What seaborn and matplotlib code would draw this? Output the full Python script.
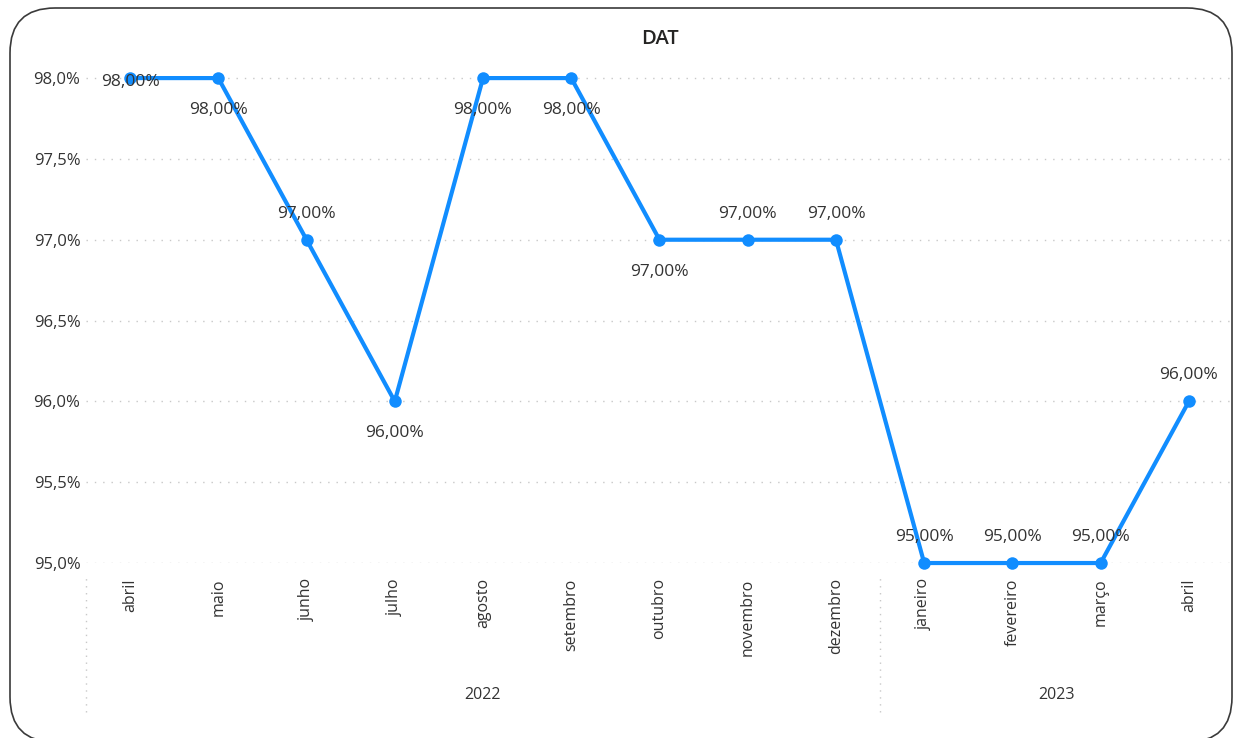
import matplotlib
matplotlib.use('Agg')
import matplotlib.pyplot as plt
import seaborn as sns
import pandas as pd
from matplotlib.ticker import FuncFormatter, MultipleLocator
from matplotlib.patches import FancyBboxPatch
from matplotlib.transforms import IdentityTransform

# data
months = ['abril', 'maio', 'junho', 'julho', 'agosto', 'setembro', 'outubro',
          'novembro', 'dezembro', 'janeiro', 'fevereiro', 'março', 'abril']
years = ['2022'] * 9 + ['2023'] * 4
dat = [98.0, 98.0, 97.0, 96.0, 98.0, 98.0, 97.0, 97.0, 97.0, 95.0, 95.0, 95.0, 96.0]
# where each data label sits relative to its point
label_side = ['center', 'below', 'above', 'below', 'below', 'below', 'below',
              'above', 'above', 'above', 'above', 'above', 'above']

df = pd.DataFrame({'pos': range(len(months)), 'month': months, 'year': years, 'dat': dat})

sns.set_theme(style='white')
plt.rcParams['font.family'] = ['Open Sans', 'DejaVu Sans']

fig = plt.figure(figsize=(12.33, 7.38), dpi=100)
ax = fig.add_axes([0.0697, 0.2371, 0.9303, 0.679])

blue = '#118DFF'
text_col = '#333333'
sns.lineplot(data=df, x='pos', y='dat', ax=ax, color=blue, linewidth=3,
             marker='o', markersize=9, markeredgewidth=0, markeredgecolor=blue)
for ln in ax.lines:
    ln.set_clip_on(False)

ax.set_xlim(-0.5, 12.5)
ax.set_ylim(95.0, 98.1)
ax.yaxis.set_major_locator(MultipleLocator(0.5))
ax.yaxis.set_major_formatter(FuncFormatter(lambda v, p: f'{v:.1f}%'.replace('.', ',')))
ax.grid(axis='y', linestyle=(0, (1, 5)), color='#c8c8c8', linewidth=1)
ax.grid(axis='x', visible=False)
for s in ax.spines.values():
    s.set_visible(False)

ax.set_xticks(df['pos'])
ax.set_xticklabels(months, rotation=90, va='top', ha='center')
ax.tick_params(axis='x', length=0, pad=11, labelsize=11.5, labelcolor=text_col)
ax.tick_params(axis='y', length=0, pad=4, labelsize=12, labelcolor=text_col)
ax.set_xlabel('')
ax.set_ylabel('')

# data labels
offsets = {'center': (0, -4), 'below': (0, -32), 'above': (0, 26)}
for x, y, side in zip(df['pos'], df['dat'], label_side):
    dx, dy = offsets[side]
    ax.annotate(f'{y:.2f}%'.replace('.', ','), (x, y), xytext=(dx * 0.72, dy * 0.72),
                textcoords='offset points', ha='center', va='center',
                fontsize=12.5, color=text_col, zorder=5, annotation_clip=False)

# year level of the axis
xt = ax.get_xaxis_transform()
for yr in df['year'].unique():
    sub = df[df['year'] == yr]
    ax.text(sub['pos'].mean(), -0.263, yr, transform=xt, ha='center', va='center',
            fontsize=11.5, color=text_col)
bounds = [-0.5] + [df[df['year'] == yr]['pos'].min() - 0.5 for yr in df['year'].unique()[1:]]
ax.vlines(bounds, -0.297, -0.024, transform=xt, clip_on=False,
          linestyle=(0, (1, 4)), color='#c8c8c8', linewidth=1)

ax.set_title('DAT', fontsize=14.5, color='#252423', pad=13, fontweight='semibold')

# rounded card border
card = FancyBboxPatch((10, -4), 1222, 734, boxstyle='round,pad=0,rounding_size=45',
                      transform=IdentityTransform(), fill=False, edgecolor='#3a3a3a',
                      linewidth=1.2)
fig.patches.append(card)

fig.savefig('out.png', dpi=100)
